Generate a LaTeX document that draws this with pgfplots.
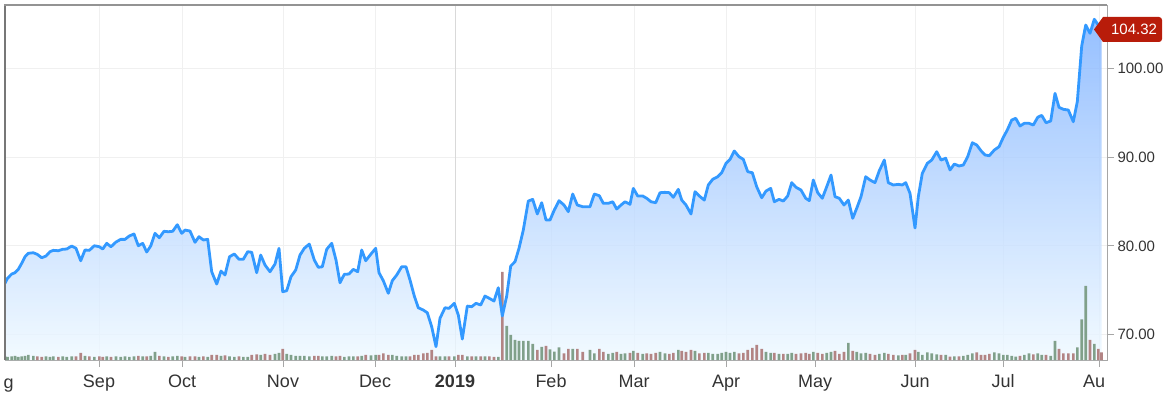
\documentclass[border=0pt]{standalone}
\usepackage{pgfplots}
\pgfplotsset{compat=1.18}
\usepackage{pgfplotstable}
\usepackage{fontspec}
\setmainfont{Liberation Sans}
\definecolor{pline}{HTML}{3399FF}
\definecolor{ftop}{RGB}{124,176,255}
\definecolor{fmid}{RGB}{199,224,255}
\definecolor{fbot}{RGB}{239,249,255}
\definecolor{vup}{RGB}{128,160,138}
\definecolor{vdn}{RGB}{178,132,132}
\definecolor{tagred}{RGB}{184,28,10}
\definecolor{txt}{HTML}{333333}
\definecolor{spine}{HTML}{777777}

% x: position along the time axis, p: price, v: volume (relative), d: 1 = up day, 0 = down day
\pgfplotstableread{
x p v d
5 75.78 3.5 1
7.5 76.35 3 1
11.7 76.83 3.5 1
15 76.98 4 1
18.3 77.36 3 1
21.7 78.04 3.5 1
25 78.78 4 1
28.3 79.17 5 1
33.3 79.23 4 1
37.3 79.05 3.5 0
41.7 78.67 3 0
46 78.86 3.5 1
50 79.35 3 1
53.3 79.50 3.5 1
58.3 79.46 3 0
62.7 79.62 3.5 1
66.7 79.65 3 1
71.7 79.99 3.5 1
76 79.73 3.5 0
80.7 78.33 7 0
85 79.54 4 1
89.3 79.50 3.5 0
94.3 80.02 3 1
99.3 79.91 3.5 0
102.7 79.65 3 0
106.7 80.29 3.5 1
111 79.91 3 0
116 80.44 3.5 1
120.7 80.74 3 1
125 80.74 3.5 1
129.3 81.12 3 1
134 81.34 3.5 1
138.3 80.02 4 0
142.7 80.29 3.5 1
146.7 79.31 3.5 0
150.7 79.99 4 1
155 81.42 8 1
159.3 80.92 4 0
164 81.65 3.5 1
168.3 81.60 3 0
172.7 81.65 3.5 1
177.3 82.39 4 1
181.7 81.42 3.5 0
185 81.79 3 1
190 81.68 3.5 0
195 80.41 3.5 0
199 81.04 3 1
203.3 80.67 3.5 0
207.7 80.74 3 1
211.7 77.09 5 0
216.7 75.70 5 0
221 77.17 4 1
225 76.72 4.5 0
229.5 78.78 3.5 1
234.3 79.09 3 1
239 78.49 3.5 0
243.3 78.49 3 1
247.7 79.35 3 1
251.7 79.28 5 0
256.7 76.98 5.5 0
260.7 78.97 5 1
265 77.85 6 0
270 77.09 5 0
275 77.96 6 1
279 79.73 7 1
282.7 74.84 11 0
286.7 74.95 6 1
291 76.53 5 1
295.7 77.28 4 1
300 78.97 4 1
304.3 79.73 4 1
309.3 80.21 3.5 1
314.3 78.41 4 0
318.3 77.59 4 0
322.3 77.65 3.5 1
326.7 79.62 3.5 1
331.7 80.29 4 1
336 78.41 3.5 0
340 75.85 4 0
344.3 76.80 3 1
349 76.83 3.5 1
353.3 77.36 3.5 1
357.7 77.09 3.5 0
361.7 79.54 4 1
365.7 78.33 5 0
371 79.09 4.5 1
375.7 79.73 5 1
379 76.98 5 0
383.3 76.08 6.5 0
388.3 74.66 5 0
392.3 76.08 5 1
396.7 76.72 4 1
401.7 77.65 3.5 1
406 77.65 3.5 1
410 76.16 3.5 0
414.3 74.35 5 0
418.3 73.03 5 0
423.3 72.77 6.5 0
427.3 72.47 7 0
431.7 70.89 10 0
436 68.64 3.5 0
440 71.84 3.5 1
445 73.03 3.5 1
449 72.96 3.5 0
454.3 73.53 3.5 1
458.3 72.21 5 0
462.3 69.50 5 0
467.3 73.22 3.5 1
471.7 73.15 3.5 0
476 73.53 3.5 1
480.7 73.34 3.5 0
485 74.35 3.5 1
489.3 74.09 3.5 0
494 73.79 3 0
498.3 75.29 3 1
502.3 72.10 88 0
506.7 74.35 34 1
510.7 77.73 25 1
515 78.22 20 1
519 79.73 19 1
523.3 81.79 19 1
528.3 85.06 19 1
532.7 85.25 16 1
537.3 83.60 10 0
541.7 84.87 13 1
546 82.92 14 0
550 82.92 10.7 1
554.3 84.05 8.3 1
559 85.10 12.7 1
564 84.61 6.7 0
568.3 83.86 11 0
572.7 85.85 11 1
577.3 84.61 11 0
582.7 84.42 8 0
590 84.42 10 1
594.3 85.85 6.7 1
599.3 85.66 11 0
603.3 84.80 8 0
608.3 84.80 6 1
612.7 84.98 7 1
616.7 84.16 8 0
621 84.61 6 1
625 84.98 6.5 1
630 84.69 7 0
633.3 86.49 9 1
637.7 85.63 7 0
642.7 85.63 6 1
646.7 85.37 6.5 0
651 84.98 6 0
655.7 84.87 7 0
660 86.00 8 1
665 86.04 6.5 1
669.3 86.00 6 0
673.3 85.48 7 0
678.3 86.38 10 1
681.7 85.17 9 0
686 84.61 8 0
691 83.60 10 0
695 86.11 9 1
699.3 85.63 6.5 0
704.3 85.17 7 0
708.3 86.87 7 1
712.7 87.51 6 1
717.7 87.80 6 1
721.7 88.25 7 1
726 89.31 8 1
730 89.76 7 1
734.3 90.70 8 1
739 90.06 6.5 0
743.3 89.76 7 0
747.7 88.37 10 0
752.3 88.25 12 0
756.7 86.67 15 0
761.7 85.43 11 0
766 86.19 8 1
770.7 86.49 7 1
774.3 84.98 7 0
779 85.25 6 1
783.3 85.06 6 0
787.7 85.63 6 1
791.7 87.13 7 1
796 86.61 6 0
801 86.30 6.5 0
805.7 85.37 7 0
809.3 85.10 6 0
813.3 87.43 8 1
817.7 86.00 7 0
822.3 85.37 6 0
826.7 86.67 7 1
831 87.99 8 1
835 85.55 9 0
839.3 85.37 6 0
844 84.61 8 0
848.3 85.17 17 1
852.7 83.11 9 0
856.7 84.24 8 1
861 85.55 6.5 1
865.7 87.80 7 1
870 87.43 6 0
875 87.13 5 0
879.3 88.48 6 1
884.3 89.68 7 1
888.3 87.13 6 0
893.3 86.87 5 0
898.3 86.94 4.5 1
902.3 86.87 5 0
905.7 87.13 5 1
910 85.93 6.7 0
915 82.02 10 0
918.3 85.55 8 1
922.3 88.18 5 1
927.3 89.31 7.7 1
931.7 89.68 6.7 1
936.7 90.62 5.7 1
941 89.68 5 0
945.7 89.88 5 1
950 88.56 3.3 0
954.3 89.23 3.5 1
959 89.01 3.5 0
963.3 89.12 4 1
967.7 90.06 5 1
972.3 91.63 6.7 1
976.7 91.38 7.7 0
981 90.73 5 0
985 90.25 5 0
989.3 90.17 6 0
994.3 90.81 7.7 1
999 91.18 6.7 1
1003.3 92.24 5 1
1007.3 93.07 5 1
1011.7 94.19 4 1
1015.7 94.39 3.3 1
1020 93.52 4 0
1024.3 93.82 5 1
1029 93.82 6.7 1
1033.3 93.63 5.7 0
1037.7 94.50 6.7 1
1041.7 94.72 5 1
1046 93.89 5 0
1050.7 94.08 4 1
1055 97.20 19 1
1059 95.63 11 0
1063.3 95.40 6.7 0
1068.3 95.32 6.7 0
1073.3 94.00 6.7 0
1077.3 96.26 12.7 1
1081.7 102.54 40.7 1
1085.7 104.90 74 1
1090 103.97 20 0
1094.3 105.55 16 1
1098.3 104.90 11 0
1101.5 104.32 7.7 0
}\data

\begin{document}
\begin{tikzpicture}
\useasboundingbox (-5pt,-36pt) rectangle (1161pt,360pt);
\begin{axis}[
  scale only axis, width=1102pt, height=355pt,
  xmin=5, xmax=1107, ymin=67.14, ymax=107.16,
  axis line style={draw=gray!70, line width=0.9pt},
  xtick={99,182,283,375,455,551,634,726,815,915,1003,1099},
  xticklabels={Sep,Oct,Nov,Dec,\textbf{2019},Feb,Mar,Apr,May,Jun,Jul,\makebox[0pt][l]{Au}\phantom{Aug}},
  ytick={70,80,90,100},
  yticklabels={70.00,80.00,90.00,100.00},
  xtick pos=lower, ytick pos=upper, yticklabel pos=upper,
  tick align=outside, major tick length=7pt,
  tick style={gray!70, line width=0.9pt},
  xmajorgrids, ymajorgrids,
  grid style={gray!12, line width=1pt},
  xticklabel style={font=\fontsize{18}{20}\selectfont, text=txt, anchor=base, yshift=-20pt},
  yticklabel style={font=\fontsize{15}{18}\selectfont, text=txt},
  /pgf/number format/assume math mode=true,
]
\draw[gray!30, line width=1pt] (455,67.14) -- (455,107.16);
\addplot[draw=none, top color=ftop, middle color=fmid, bottom color=fbot, fill opacity=0.8]
  table[x=x, y=p]{\data} |- (5,67.14) -- cycle;
\addplot[ybar, bar width=2.6, bar shift=0pt, fill=vup, draw=none,
  restrict expr to domain={\thisrow{d}}{0.5:1.5}]
  table[x=x, y expr={67.14+\thisrow{v}/8.87}]{\data};
\addplot[ybar, bar width=2.6, bar shift=0pt, fill=vdn, draw=none,
  restrict expr to domain={\thisrow{d}}{-0.5:0.5}]
  table[x=x, y expr={67.14+\thisrow{v}/8.87}]{\data};
\addplot[pline, line width=2.8pt, line join=round, no marks]
  table[x=x, y=p]{\data};
\end{axis}
\draw[spine, line width=2pt] (0,0) -- (0,355pt);
\draw[gray!85, line width=1.3pt] (-1pt,355pt) -- (1102pt,355pt);
\node[anchor=base west, inner sep=0, font=\fontsize{18}{20}\selectfont, text=txt] at (-1.5pt,-28pt) {g};
\fill[tagred] (1089pt,330.5pt) -- (1098pt,343pt) [rounded corners=3pt] -- (1157pt,343pt) -- (1157pt,318pt) [sharp corners] -- (1098pt,318pt) -- cycle;
\node[text=white, font=\fontsize{15}{18}\selectfont] at (1129pt,330.5pt) {104.32};
\end{tikzpicture}
\end{document}
